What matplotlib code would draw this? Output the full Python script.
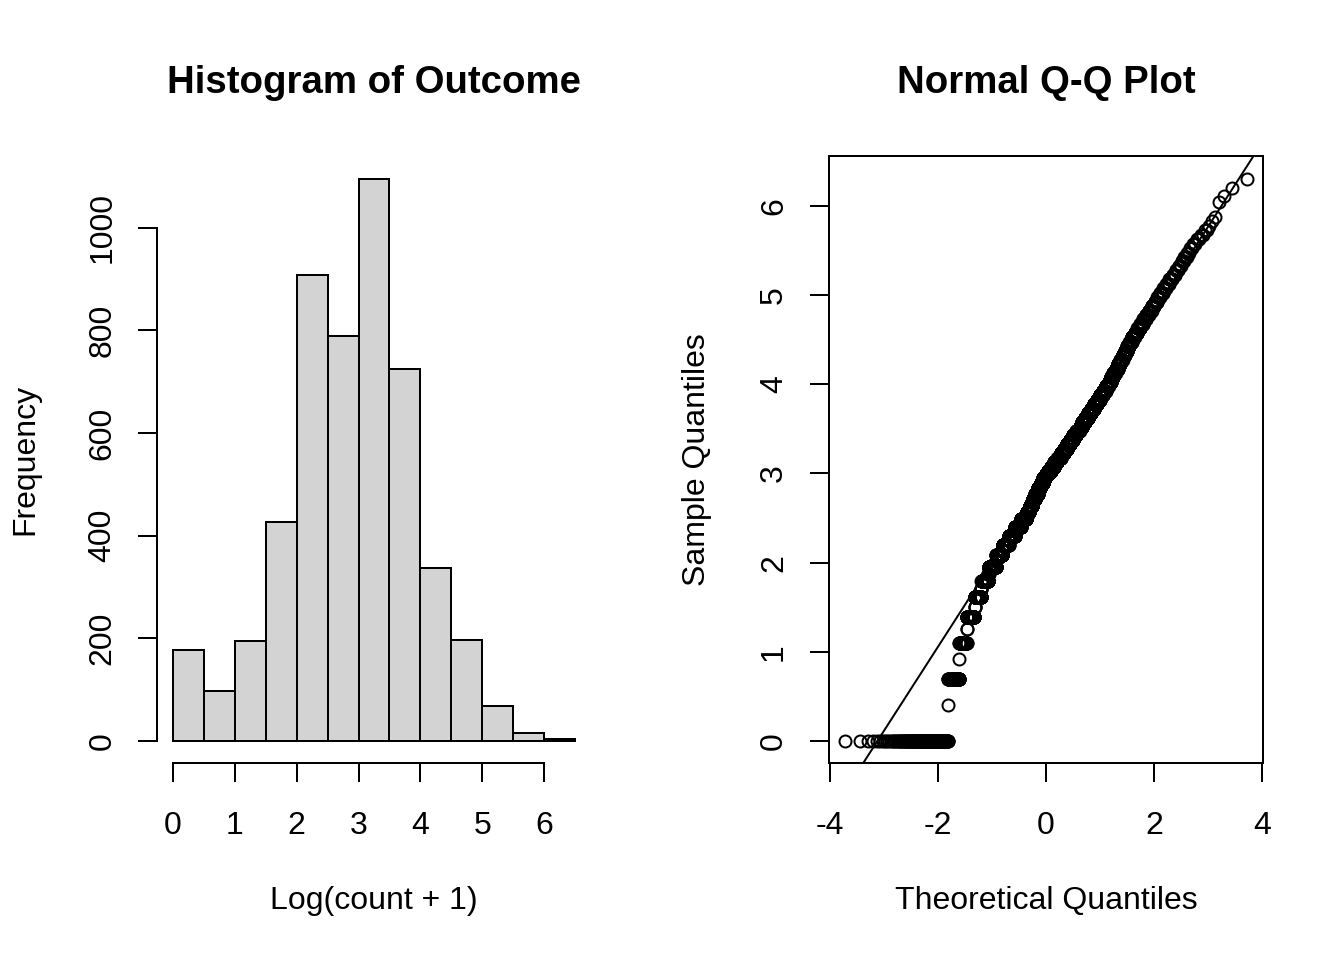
import numpy as np
import matplotlib
matplotlib.use("Agg")
import matplotlib.pyplot as plt
from statistics import NormalDist

plt.rcParams['font.family'] = ['Liberation Sans', 'DejaVu Sans']
plt.rcParams['axes.unicode_minus'] = False

# raw counts (before the log transform) and how often each one occurs
raw_counts = [0, 0.5, 1, 1.5, 2, 2.5, 3, 3.5, 4, 4.5, 5, 5.5, 6, 6.5, 7, 7.5, 8, 8.5, 9, 9.5,
              10, 10.5, 11, 11.5, 12, 12.5, 13, 13.5, 14, 14.5, 15, 15.5, 16, 16.5, 17, 17.5,
              18, 18.5, 19]
raw_freq = [176, 1, 97, 1, 84, 2, 108, 3, 110, 4, 135, 6, 168, 8, 155, 10, 165, 12, 175, 14,
            178, 16, 174, 11, 95, 11, 92, 11, 90, 11, 88, 11, 86, 11, 85, 11, 84, 11, 82]

# above log value 3 the outcome is nearly continuous, kept as 0.05 wide levels
upper_levels = [3.025, 3.075, 3.125, 3.175, 3.225, 3.275, 3.325, 3.375, 3.425, 3.475,
                3.525, 3.575, 3.625, 3.675, 3.725, 3.775, 3.825, 3.875, 3.925, 3.975,
                4.025, 4.075, 4.125, 4.175, 4.225, 4.275, 4.325, 4.375, 4.425, 4.475,
                4.525, 4.575, 4.625, 4.675, 4.725, 4.775, 4.825, 4.875, 4.925, 4.975,
                5.025, 5.075, 5.125, 5.175, 5.225, 5.275, 5.325, 5.375, 5.425, 5.475,
                5.525, 5.575, 5.625, 5.675, 5.725, 5.775, 5.825, 5.875, 5.925, 5.975]
upper_freq = [117, 116, 115, 114, 112, 110, 107, 105, 101, 98,
              80, 86, 83, 79, 75, 71, 67, 64, 62, 57,
              43, 41, 39, 36, 35, 33, 30, 29, 27, 25,
              29, 26, 24, 22, 20, 18, 17, 15, 13, 12,
              12, 10, 9, 8, 7, 6, 5, 4, 4, 3,
              3, 3, 3, 2, 2, 1, 1, 1, 0, 0]
top_values = [6.04, 6.11, 6.20, 6.30]

breaks = np.arange(0, 6.51, 0.5)

outcome = np.concatenate([np.repeat(np.log1p(raw_counts), raw_freq),
                          np.repeat(upper_levels, upper_freq),
                          top_values])
outcome = np.sort(outcome)
n = len(outcome)

# qqnorm: theoretical quantiles from ppoints(n)
nd = NormalDist()
theo = np.array([nd.inv_cdf((i - 0.5) / n) for i in range(1, n + 1)])

# qqline through the quartiles
q_samp = np.quantile(outcome, [0.25, 0.75])
q_theo = np.array([nd.inv_cdf(0.25), nd.inv_cdf(0.75)])
slope = (q_samp[1] - q_samp[0]) / (q_theo[1] - q_theo[0])
intercept = q_samp[0] - slope * q_theo[0]

fig = plt.figure(figsize=(7, 5), dpi=192)
LW = 0.75

# ---- histogram ----
ax1 = fig.add_axes([0.1168, 0.2047, 0.3229, 0.6323])
counts, _, _ = ax1.hist(outcome, bins=breaks, color='#D3D3D3', edgecolor='black', linewidth=LW)
span = breaks[-1] - breaks[0]
ax1.set_xlim(breaks[0] - 0.04 * span, breaks[-1] + 0.04 * span)
ax1.set_ylim(-0.04 * counts.max(), 1.04 * counts.max())
ax1.spines[['top', 'right']].set_visible(False)
ax1.spines['left'].set_bounds(0, 1000)
ax1.spines['bottom'].set_bounds(0, 6)
ax1.set_xticks(range(0, 7))
ax1.set_yticks(range(0, 1001, 200))

# ---- normal q-q ----
ax2 = fig.add_axes([0.6165, 0.2047, 0.3235, 0.6323])
ax2.plot(theo, outcome, 'o', mfc='none', mec='black', ms=4.5, mew=LW)
ax2.axline((0, intercept), slope=slope, color='black', lw=LW)
xr = theo.max() - theo.min()
yr = outcome.max() - outcome.min()
ax2.set_xlim(theo.min() - 0.04 * xr, theo.max() + 0.04 * xr)
ax2.set_ylim(outcome.min() - 0.04 * yr, outcome.max() + 0.04 * yr)
ax2.set_xticks([-4, -2, 0, 2, 4])
ax2.set_yticks(range(0, 7))

for ax in (ax1, ax2):
    for s in ax.spines.values():
        s.set_linewidth(LW)
    ax.tick_params(length=7.2, width=LW, labelsize=12, direction='out')
    ax.tick_params(axis='x', pad=10.6)
    ax.tick_params(axis='y', pad=7.6)
    for lbl in ax.get_yticklabels():
        lbl.set_rotation(90)
        lbl.set_va('center')

# titles and axis labels (R base graphics layout)
fig.text(0.2783, 0.903, 'Histogram of Outcome', ha='center', va='baseline',
         fontsize=14.4, fontweight='bold')
fig.text(0.7783, 0.903, 'Normal Q-Q Plot', ha='center', va='baseline',
         fontsize=14.4, fontweight='bold')
fig.text(0.2783, 0.0615, 'Log(count + 1)', ha='center', va='center', fontsize=12)
fig.text(0.7783, 0.0615, 'Theoretical Quantiles', ha='center', va='center', fontsize=12)
fig.text(0.0186, 0.521, 'Frequency', ha='center', va='center', rotation=90, fontsize=12)
fig.text(0.5186, 0.521, 'Sample Quantiles', ha='center', va='center', rotation=90, fontsize=12)

fig.savefig('out.png', dpi=192)
